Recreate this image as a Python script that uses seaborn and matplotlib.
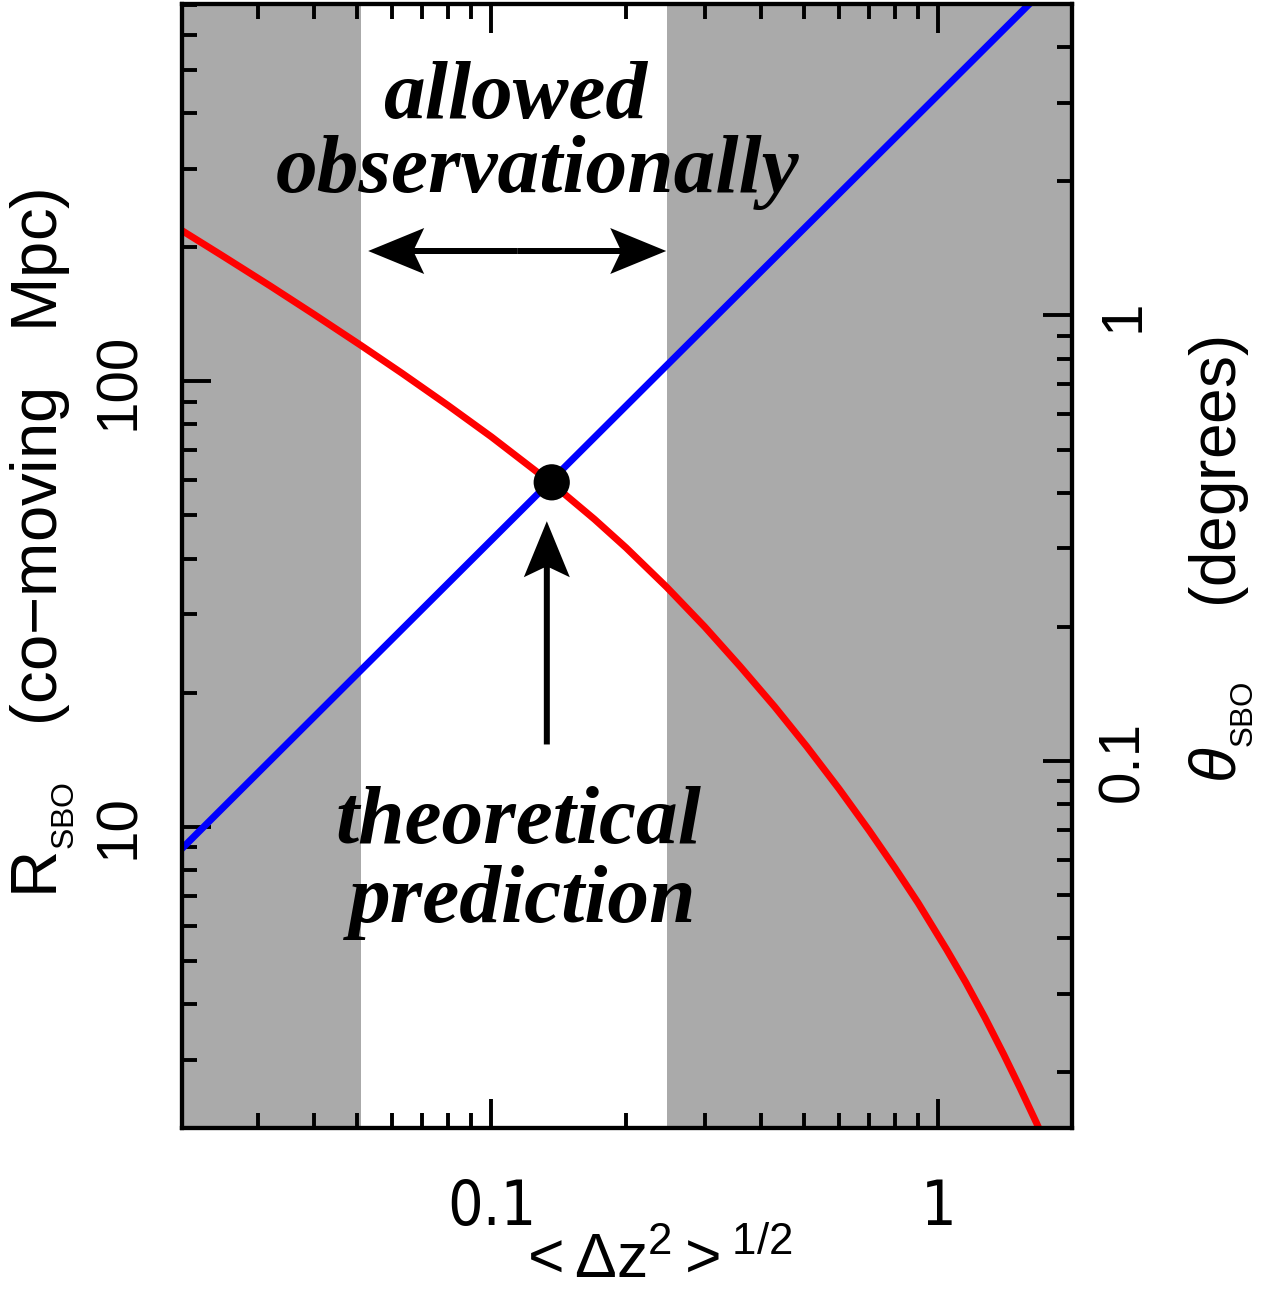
import numpy as np
import pandas as pd
import matplotlib
matplotlib.use("Agg")
import matplotlib.pyplot as plt
import seaborn as sns
from matplotlib import font_manager as fm
from matplotlib.patches import FancyArrow
from matplotlib.ticker import FixedLocator, FixedFormatter, NullFormatter

# ---------------- data ----------------
# red curve: theoretical R_SBO vs redshift scatter
dz_red = [0.02, 0.025, 0.032, 0.04, 0.0512, 0.063, 0.08, 0.1, 0.1364, 0.17,
          0.2, 0.2466, 0.3, 0.36, 0.43, 0.507, 0.6, 0.7, 0.8, 0.9, 1.043,
          1.15, 1.27, 1.4, 1.52, 1.658, 1.75]
R_red = [219.9, 191.3, 163.6, 141.5, 120.1, 104.3, 88.2, 75.0, 59.0, 49.0,
         42.3, 34.5, 28.1, 22.9, 18.6, 15.15, 12.14, 9.80, 8.07, 6.75, 5.30,
         4.48, 3.73, 3.08, 2.60, 2.16, 1.91]
# blue line
dz_blue = [0.02, 0.1, 1.0, 1.6]
R_blue = [8.8, 44.0, 440.0, 704.0]
# predicted intersection
dz_pred = [0.1364]
R_pred = [59.3]
# observationally allowed range of <dz^2>^1/2
allowed = [0.0512, 0.2466]
# annotation anchors
arrow_h_x = [0.053, 0.246]
arrow_h_R = 196.0
arrow_v_x = 0.133
arrow_v_R = [15.3, 48.5]
# axis ranges and ticks
xlim = [0.02028, 1.986]
Rlim = [2.108, 702.5]
deg_per_mpc = 0.007117
x_major = [0.1, 1.0]
x_major_labels = ["0.1", "1"]
x_minor = [0.02, 0.03, 0.04, 0.05, 0.06, 0.07, 0.08, 0.09,
           0.2, 0.3, 0.4, 0.5, 0.6, 0.7, 0.8, 0.9]
R_major = [10, 100]
R_major_labels = ["10", "100"]
R_minor = [3, 4, 5, 6, 7, 8, 9, 20, 30, 40, 50, 60, 70, 80, 90,
           200, 300, 400, 500, 600, 700]
th_major = [0.1, 1.0]
th_major_labels = ["0.1", "1"]
th_minor = [0.02, 0.03, 0.04, 0.05, 0.06, 0.07, 0.08, 0.09,
            0.2, 0.3, 0.4, 0.5, 0.6, 0.7, 0.8, 0.9, 2, 3, 4]

# ---------------- style ----------------
sns.set_style("ticks")
plt.rcParams["font.family"] = ["Liberation Sans", "DejaVu Sans"]
plt.rcParams["mathtext.fontset"] = "custom"
plt.rcParams["mathtext.rm"] = "Liberation Sans"
plt.rcParams["mathtext.it"] = "Liberation Sans:italic"
plt.rcParams["mathtext.bf"] = "Liberation Sans:bold"
plt.rcParams["axes.unicode_minus"] = True
for k in ["text.color", "axes.labelcolor", "xtick.color", "ytick.color", "axes.edgecolor"]:
    plt.rcParams[k] = "black"

# a narrow sans face for the horizontal tick labels, if one is installed
_entries = fm.fontManager.ttflist
if any(f.name == "Liberation Sans Narrow" for f in _entries):
    narrow_props = fm.FontProperties(family="Liberation Sans Narrow", size=50)
elif any(f.name == "DejaVu Sans" and str(f.stretch) in ("condensed", "semi-condensed") for f in _entries):
    narrow_props = fm.FontProperties(family="DejaVu Sans", stretch="condensed", size=45)
else:
    narrow_props = fm.FontProperties(family="Liberation Sans", size=45)

W, H = 1265, 1291
fig = plt.figure(figsize=(W / 100, H / 100), dpi=100)
fig.patch.set_facecolor("white")
ax = fig.add_axes([181.7 / W, 1 - 1128 / H, (1071.7 - 181.7) / W, (1128 - 4) / H])
ax.set_facecolor("white")
ax.set_xscale("log")
ax.set_yscale("log")
ax.set_xlim(*xlim)
ax.set_ylim(*Rlim)

gray = "#aaaaaa"
ax.axvspan(xlim[0], allowed[0], color=gray, lw=0, zorder=0)
ax.axvspan(allowed[1], xlim[1], color=gray, lw=0, zorder=0)

df_red = pd.DataFrame({"dz": dz_red, "R": R_red})
df_blue = pd.DataFrame({"dz": dz_blue, "R": R_blue})
sns.lineplot(data=df_red, x="dz", y="R", ax=ax, color="#ff0000", linewidth=5,
             sort=False, estimator=None, zorder=3)
sns.lineplot(data=df_blue, x="dz", y="R", ax=ax, color="#0000ff", linewidth=5,
             sort=False, estimator=None, zorder=3)
for ln in ax.get_lines():
    ln.set_linewidth(5.0)
    ln.set_solid_capstyle("butt")
sns.scatterplot(x=dz_pred, y=R_pred, ax=ax, s=680, color="black",
                edgecolor="none", zorder=6)
ax.set_xlim(*xlim)
ax.set_ylim(*Rlim)

# ticks
ax.xaxis.set_major_locator(FixedLocator(x_major))
ax.xaxis.set_major_formatter(FixedFormatter(x_major_labels))
ax.xaxis.set_minor_locator(FixedLocator(x_minor))
ax.xaxis.set_minor_formatter(NullFormatter())
ax.yaxis.set_major_locator(FixedLocator(R_major))
ax.yaxis.set_major_formatter(FixedFormatter(R_major_labels))
ax.yaxis.set_minor_locator(FixedLocator(R_minor))
ax.yaxis.set_minor_formatter(NullFormatter())

ax.tick_params(which="both", direction="in", top=True, bottom=True, left=True,
               right=False, width=2.8, color="black")
ax.tick_params(which="major", length=21)
ax.tick_params(which="minor", length=11)
ax.tick_params(axis="x", pad=36, labelsize=narrow_props.get_size())
ax.tick_params(axis="y", pad=26, labelrotation=90, labelsize=42)

for sp in ax.spines.values():
    sp.set_linewidth(3)
    sp.set_color("black")
    sp.set_zorder(10)

ax2 = ax.twinx()
ax2.set_yscale("log")
ax2.set_ylim(Rlim[0] * deg_per_mpc, Rlim[1] * deg_per_mpc)
ax2.yaxis.set_major_locator(FixedLocator(th_major))
ax2.yaxis.set_major_formatter(FixedFormatter(th_major_labels))
ax2.yaxis.set_minor_locator(FixedLocator(th_minor))
ax2.yaxis.set_minor_formatter(NullFormatter())
ax2.tick_params(which="both", direction="in", right=True, left=False,
                width=2.8, color="black", labelsize=42)
ax2.tick_params(which="major", length=21)
ax2.tick_params(which="minor", length=11)
ax2.tick_params(axis="y", pad=18, labelrotation=90)
for sp in ax2.spines.values():
    sp.set_linewidth(3)
    sp.set_color("black")
    sp.set_zorder(10)

# axis labels
ax.set_xlabel(r"$\mathregular{<\Delta z^2>^{1/2}}$", fontsize=45)
ax.xaxis.set_label_coords((655 - 181.7) / 890, (1128 - 1261) / 1124)
ax.xaxis.label.set_va("center")

ax.set_ylabel(r"$\mathregular{R_{_{SBO}}}$   (co" + "\u2212" + "moving   Mpc)", fontsize=47)
ax.yaxis.label.set_rotation_mode("default")
ax.yaxis.label.set_va("center")
ax.yaxis.set_label_coords((42 - 181.7) / 890, (1128 - 543) / 1124)

ax2.set_ylabel(r"$\theta_{_{\mathregular{SBO}}}$    (degrees)", fontsize=46)
ax2.yaxis.label.set_rotation(90)
ax2.yaxis.label.set_rotation_mode("default")
ax2.yaxis.label.set_va("center")
ax2.yaxis.set_label_coords((1221 - 181.7) / 890, (1128 - 560) / 1124)

# annotations
tfont = dict(family="Liberation Serif", weight="bold", style="italic",
             fontsize=60, color="black", ha="center", va="baseline")
ax.text((515 - 181.7) / 890, (1128 - 118) / 1124, "allowed", transform=ax.transAxes, **tfont)
ax.text((538 - 181.7) / 890, (1128 - 192) / 1124, "observationally", transform=ax.transAxes, **tfont)
ax.text((518 - 181.7) / 890, (1128 - 843) / 1124, "theoretical", transform=ax.transAxes, **tfont)
ax.text((523 - 181.7) / 890, (1128 - 922) / 1124, "prediction", transform=ax.transAxes, **tfont)


def add_arrow(x0, y0, x1, y1):
    p0 = ax.transData.transform((x0, y0)) / fig.dpi
    p1 = ax.transData.transform((x1, y1)) / fig.dpi
    d = p1 - p0
    arr = FancyArrow(p0[0], p0[1], d[0], d[1], width=0.06, head_width=0.46,
                     head_length=0.56, overhang=0.17, length_includes_head=True,
                     color="black", lw=0, transform=fig.dpi_scale_trans, zorder=5)
    fig.add_artist(arr)


xmid = np.sqrt(arrow_h_x[0] * arrow_h_x[1])
add_arrow(xmid, arrow_h_R, arrow_h_x[0], arrow_h_R)
add_arrow(xmid, arrow_h_R, arrow_h_x[1], arrow_h_R)
add_arrow(arrow_v_x, arrow_v_R[0], arrow_v_x, arrow_v_R[1])

# final label styling (after all tick setup)
fig.canvas.draw()
for lbl in ax.get_xticklabels():
    lbl.set_fontproperties(narrow_props)
for lbl in ax.get_yticklabels() + ax2.get_yticklabels():
    lbl.set_va("center")

fig.savefig("out.png", dpi=100)
